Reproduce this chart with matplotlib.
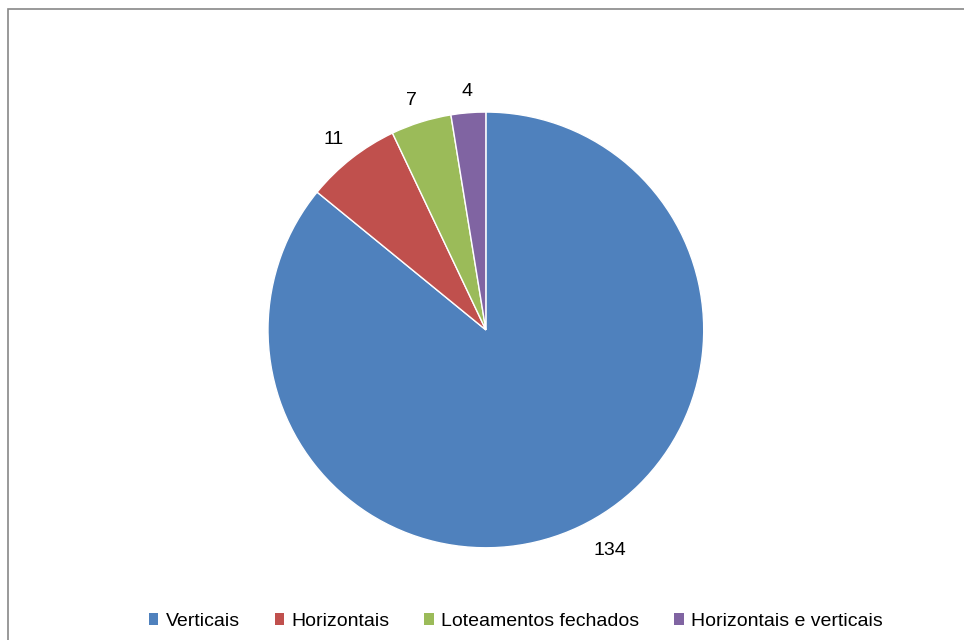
import numpy as np
import matplotlib.pyplot as plt
from matplotlib.patches import Rectangle

categories = ['Verticais', 'Horizontais', 'Loteamentos fechados', 'Horizontais e verticais']
counts = [134, 11, 7, 4]
colors = ['#4F81BD', '#C0504D', '#9BBB59', '#8064A2']

plt.rcParams['font.family'] = ['Liberation Sans', 'DejaVu Sans']

fig = plt.figure(figsize=(9.64, 6.4), dpi=100)

# chart frame (right and bottom edges run off the canvas)
fig.patches.append(Rectangle((8 / 964, -0.05), 1.0, (632 / 640) + 0.05 - 0.0015,
                             transform=fig.transFigure, fill=False,
                             edgecolor='#888888', linewidth=1.2))

ax = fig.add_axes([0.278, 0.144, 0.452, 0.681])
wedges, _ = ax.pie(counts, colors=colors, startangle=90, counterclock=False,
                   radius=1.0, wedgeprops=dict(edgecolor='white', linewidth=1.0))
ax.set_xlim(-1, 1)
ax.set_ylim(-1, 1)
ax.set_aspect('equal')
ax.axis('off')

# value labels at the outside end of each slice
for w, n in zip(wedges, counts):
    mid = np.deg2rad((w.theta1 + w.theta2) / 2)
    c, s = np.cos(mid), np.sin(mid)
    r = 1.06 if s > 0 else 1.08
    ha = 'left' if c > 0.15 else ('right' if c < -0.15 else 'center')
    va = 'bottom' if s > 0 else 'top'
    ax.text(r * c + (0.03 if ha == 'left' else 0), r * s, str(n), ha=ha, va=va,
            fontsize=14, color='black', clip_on=False)

handles = [Rectangle((0, 0), 1, 1, facecolor=c) for c in colors]
fig.legend(handles, categories, loc='center', bbox_to_anchor=(0.535, 0.029),
           ncol=4, frameon=False, fontsize=14, handlelength=0.5, handleheight=0.5,
           handletextpad=0.36, columnspacing=1.8)

fig.savefig('out.png', dpi=100, facecolor='white')
